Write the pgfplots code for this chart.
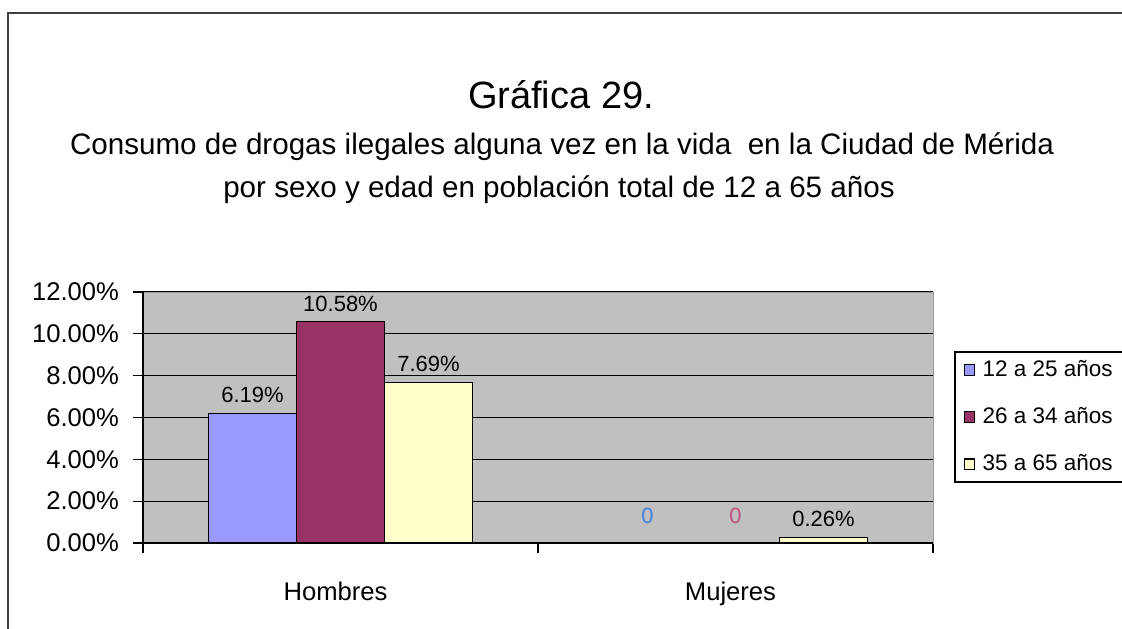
\documentclass[border=0pt]{standalone}
\usepackage{pgfplots}
\pgfplotsset{compat=1.18}
\usepackage{fontspec}
\setmainfont{Liberation Sans}
\definecolor{cblue}{HTML}{9999FF}
\definecolor{cpurple}{HTML}{993366}
\definecolor{cyellow}{HTML}{FFFFCC}
\definecolor{cgray}{HTML}{C0C0C0}
\definecolor{zblue}{HTML}{3F82E0}
\definecolor{zpink}{HTML}{C0507E}
\begin{document}
\begin{tikzpicture}
\useasboundingbox (0,0) rectangle (561pt,314pt);
\draw[line width=1.3pt, black!75] (4pt,-5pt) -- (4pt,307.5pt) -- (570pt,307.5pt);
\node[font=\fontsize{19}{22}\selectfont] at (280.5pt,266.5pt) {Gráfica 29.};
\node[font=\fontsize{14.8}{17}\selectfont] at (281pt,240.5pt) {Consumo de drogas ilegales alguna vez en la vida\ \ en la Ciudad de Mérida};
\node[font=\fontsize{14.8}{17}\selectfont] at (279.5pt,219pt) {por sexo y edad en población total de 12 a 65 años};
\draw[black, line width=0.6pt, fill=white] (477.5pt,73pt) rectangle (575pt,138pt);
\begin{axis}[
  at={(71.5pt,42.5pt)}, anchor=south west,
  scale only axis, width=395pt, height=125.5pt,
  xmin=-0.5, xmax=1.5, ymin=0, ymax=12,
  axis background/.style={fill=cgray},
  axis line style={draw=gray!80, line width=0.5pt},
  xtick={-0.5,0.5,1.5}, xticklabels={,,},
  extra x ticks={0,1}, extra x tick labels={Hombres,Mujeres},
  extra x tick style={major tick length=0pt, xticklabel style={font=\fontsize{12.8}{15}\selectfont, anchor=base, yshift=-28.5pt, xshift=-2.5pt}},
  ytick={0,2,...,12},
  ymajorgrids, major grid style={black, line width=0.6pt},
  tick align=outside, tick pos=left,
  major tick length=5pt,
  tick style={black, line width=0.6pt},
  /pgf/number format/assume math mode=true,
  yticklabel={\pgfmathprintnumber[fixed,fixed zerofill,precision=2]{\tick}\%},
  yticklabel style={font=\fontsize{12.8}{15}\selectfont, xshift=-3.5pt},
  ybar, bar width=0.2228,
  point meta=explicit symbolic,
  nodes near coords,
  every node near coord/.append style={font=\fontsize{11}{13}\selectfont, anchor=base, inner sep=0pt, yshift=5.3pt},
  legend style={at={(1.028,0.777)}, anchor=north west, draw=none, fill=none,
    font=\fontsize{11.25}{13}\selectfont, row sep=10pt, inner xsep=4pt, inner ysep=4pt},
  legend cell align=left,
  legend image code/.code={\draw[#1, line width=0.6pt] (0pt,-2.6pt) rectangle (5.2pt,2.6pt); \path[draw=none, fill=none] (0pt,-0.1pt) rectangle (7.2pt,0.1pt);},
]
\addplot[fill=cblue, draw=black, line width=0.6pt, bar shift=-0.2228] coordinates {(0,6.19) [6.19\%] (1,0) [\raisebox{4.5pt}{\textcolor{zblue}{0}}]};
\addplot[fill=cpurple, draw=black, line width=0.6pt, bar shift=0] coordinates {(0,10.58) [10.58\%] (1,0) [\raisebox{4.5pt}{\textcolor{zpink}{0}}]};
\addplot[fill=cyellow, draw=black, line width=0.6pt, bar shift=0.2228] coordinates {(0,7.69) [7.69\%] (1,0.26) [0.26\%]};
\legend{12 a 25 años, 26 a 34 años, 35 a 65 años}
\end{axis}
\draw[black, line width=0.7pt] (71.5pt,42.5pt) -- (71.5pt,168pt);
\draw[black, line width=0.7pt] (71.5pt,42.5pt) -- (466.5pt,42.5pt);
\end{tikzpicture}
\end{document}
